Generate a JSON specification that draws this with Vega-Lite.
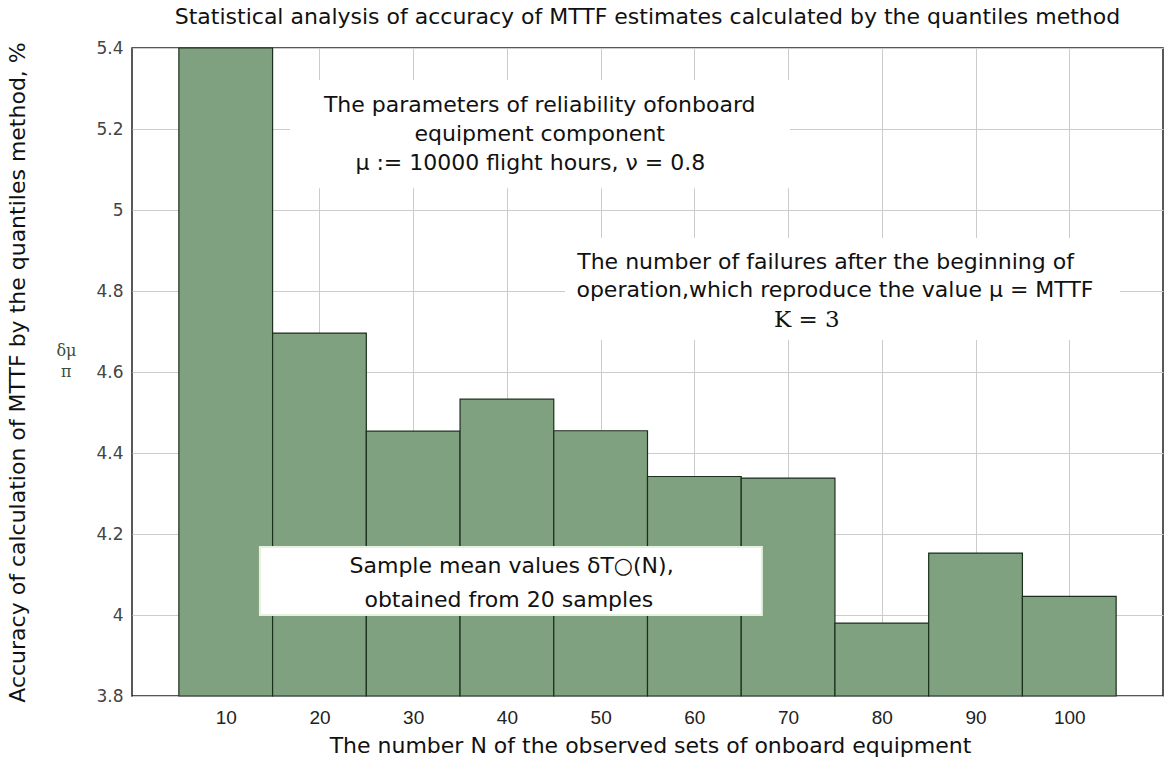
{
  "$schema": "https://vega.github.io/schema/vega-lite/v6.json",
  "width": 1031,
  "height": 648,
  "autosize": "none",
  "padding": {"left": 132, "top": 48, "right": 5, "bottom": 68},
  "background": "white",
  "config": {
    "view": {"stroke": "#222", "strokeWidth": 1.5},
    "font": "DejaVu Sans"
  },
  "title": {
    "text": "Statistical analysis of accuracy of MTTF estimates calculated by the quantiles method",
    "anchor": "middle",
    "font": "DejaVu Sans",
    "fontSize": 22,
    "fontWeight": "normal",
    "color": "#111",
    "offset": 10
  },
  "datasets": {
    "bars": [
      {"N": 10, "lo": 5, "hi": 15, "value": 5.4},
      {"N": 20, "lo": 15, "hi": 25, "value": 4.696},
      {"N": 30, "lo": 25, "hi": 35, "value": 4.454},
      {"N": 40, "lo": 35, "hi": 45, "value": 4.533},
      {"N": 50, "lo": 45, "hi": 55, "value": 4.455},
      {"N": 60, "lo": 55, "hi": 65, "value": 4.342},
      {"N": 70, "lo": 65, "hi": 75, "value": 4.338},
      {"N": 80, "lo": 75, "hi": 85, "value": 3.98},
      {"N": 90, "lo": 85, "hi": 95, "value": 4.153},
      {"N": 100, "lo": 95, "hi": 105, "value": 4.046}
    ],
    "boxes": [
      {"x1": 16.85, "x2": 70.2, "y1": 5.321, "y2": 5.054},
      {"x1": 46.2, "x2": 105.4, "y1": 4.931, "y2": 4.679}
    ],
    "boxes2": [
      {"x1": 13.65, "x2": 67.2, "y1": 4.168, "y2": 4.0}
    ],
    "notes": [
      {"x": 43.5, "y": 5.259, "text": "The parameters of reliability ofonboard"},
      {"x": 43.5, "y": 5.188, "text": "equipment component"},
      {"x": 42.5, "y": 5.116, "text": "μ := 10000 flight hours,  ν = 0.8"},
      {"x": 74.0, "y": 4.872, "text": "The number of failures after the beginning of"},
      {"x": 75.0, "y": 4.802, "text": "operation,which reproduce the value μ = MTTF"},
      {"x": 40.5, "y": 4.121, "text": "Sample mean values δT○(N),"},
      {"x": 40.2, "y": 4.037, "text": "obtained from 20 samples"}
    ],
    "serifnotes": [
      {"x": 72.0, "y": 4.728, "text": "K = 3"}
    ],
    "sidenotes": [
      {"x": -7.0, "y": 4.652, "text": "δμ"},
      {"x": -7.0, "y": 4.6, "text": "п"}
    ]
  },
  "layer": [
    {
      "data": {"name": "bars"},
      "mark": {"type": "rect", "fill": "#80a180", "stroke": "#1c2e1c", "strokeWidth": 1.2},
      "encoding": {
        "x": {
          "field": "lo",
          "type": "quantitative",
          "scale": {"domain": [0, 110], "nice": false, "zero": false},
          "axis": {
            "values": [10, 20, 30, 40, 50, 60, 70, 80, 90, 100],
            "title": "The number N of the observed sets of onboard equipment",
            "titleFont": "DejaVu Sans",
            "titleFontSize": 22,
            "titleFontWeight": "normal",
            "titleColor": "#111",
            "titleX": 518,
            "titleY": 56,
            "titleBaseline": "alphabetic",
            "titleAnchor": "middle",
            "labelFont": "Liberation Sans",
            "labelFontSize": 19,
            "labelColor": "#222",
            "labelPadding": 12,
            "ticks": false,
            "domain": false,
            "grid": true,
            "gridColor": "#cccccc",
            "gridWidth": 1
          }
        },
        "x2": {"field": "hi"},
        "y": {
          "field": "value",
          "type": "quantitative",
          "scale": {"domain": [3.8, 5.4], "nice": false, "zero": false},
          "axis": {
            "values": [3.8, 4, 4.2, 4.4, 4.6, 4.8, 5, 5.2, 5.4],
            "labelExpr": "format(datum.value, '~g')",
            "title": "Accuracy of calculation of MTTF by the quantiles method, %",
            "titleFont": "DejaVu Sans",
            "titleFontSize": 22,
            "titleFontWeight": "normal",
            "titleColor": "#111",
            "titleX": -103,
            "titleY": 324,
            "titleAnchor": "middle",
            "labelFont": "DejaVu Sans",
            "labelFontSize": 17,
            "labelColor": "#444",
            "labelPadding": 9,
            "ticks": false,
            "domain": false,
            "grid": true,
            "gridColor": "#cccccc",
            "gridWidth": 1
          }
        },
        "y2": {"datum": 3.8}
      }
    },
    {
      "data": {"name": "boxes"},
      "mark": {"type": "rect", "fill": "white"},
      "encoding": {
        "x": {"field": "x1", "type": "quantitative"},
        "x2": {"field": "x2"},
        "y": {"field": "y1", "type": "quantitative"},
        "y2": {"field": "y2"}
      }
    },
    {
      "data": {"name": "boxes2"},
      "mark": {"type": "rect", "fill": "white", "stroke": "#e6f2e0", "strokeWidth": 2},
      "encoding": {
        "x": {"field": "x1", "type": "quantitative"},
        "x2": {"field": "x2"},
        "y": {"field": "y1", "type": "quantitative"},
        "y2": {"field": "y2"}
      }
    },
    {
      "data": {"name": "notes"},
      "mark": {"type": "text", "font": "DejaVu Sans", "fontSize": 22, "color": "#111", "align": "center", "baseline": "middle"},
      "encoding": {
        "x": {"field": "x", "type": "quantitative"},
        "y": {"field": "y", "type": "quantitative"},
        "text": {"field": "text"}
      }
    },
    {
      "data": {"name": "serifnotes"},
      "mark": {"type": "text", "font": "DejaVu Serif", "fontSize": 23, "color": "#111", "align": "center", "baseline": "middle"},
      "encoding": {
        "x": {"field": "x", "type": "quantitative"},
        "y": {"field": "y", "type": "quantitative"},
        "text": {"field": "text"}
      }
    },
    {
      "data": {"name": "sidenotes"},
      "mark": {"type": "text", "font": "DejaVu Serif", "fontSize": 16, "color": "#3a4f3a", "align": "center", "baseline": "middle", "clip": false},
      "encoding": {
        "x": {"field": "x", "type": "quantitative"},
        "y": {"field": "y", "type": "quantitative"},
        "text": {"field": "text"}
      }
    }
  ]
}
